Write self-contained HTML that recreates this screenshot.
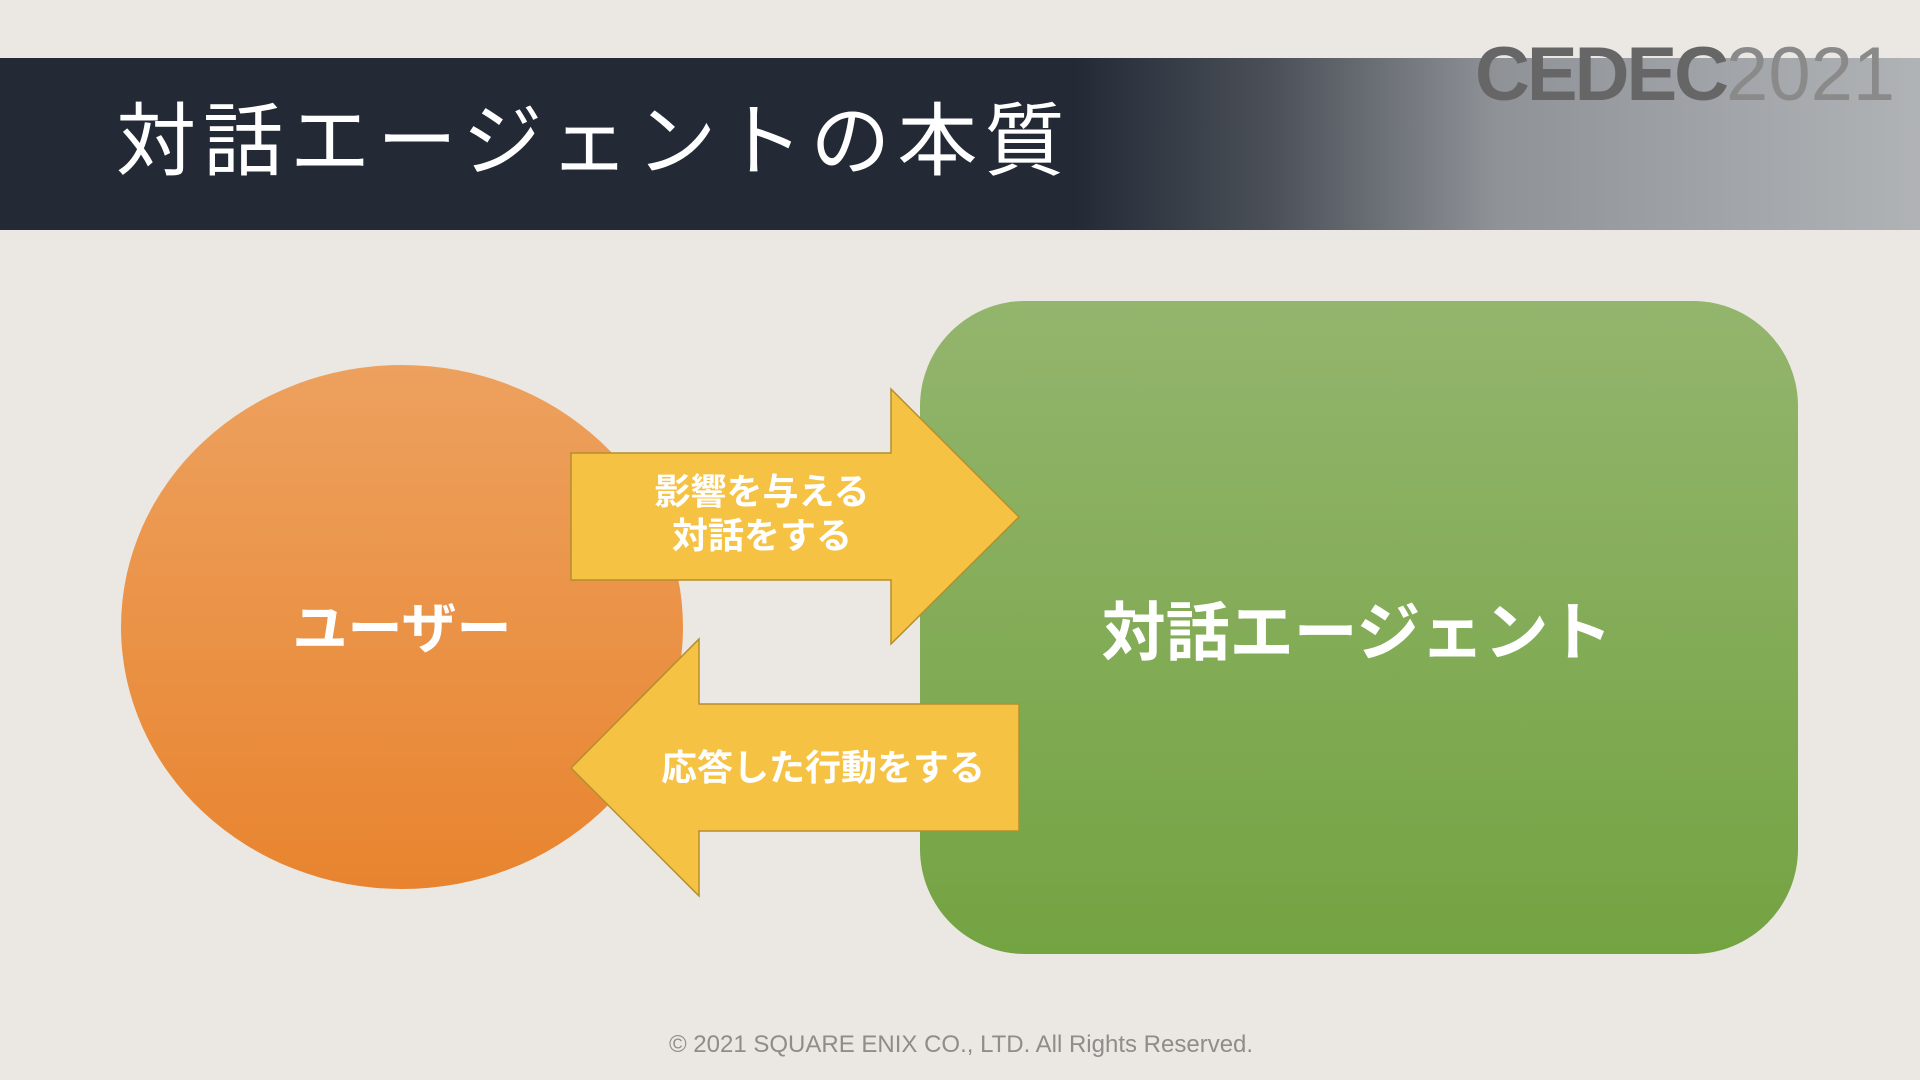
<!DOCTYPE html>
<html><head><meta charset="utf-8"><style>
html,body{margin:0;padding:0;}
body{width:1920px;height:1080px;background:#ebe8e3;position:relative;overflow:hidden;font-family:"Liberation Sans","Noto Sans CJK JP",sans-serif;}
.band{position:absolute;left:0;top:58px;width:1920px;height:172px;background:linear-gradient(90deg,#232a36 0%,#232a36 56%,#4a4f57 66%,#8f9398 78%,#b0b3b6 100%);}
.title{position:absolute;left:116px;top:92px;font-size:80px;color:#fff;letter-spacing:7px;white-space:nowrap;line-height:100px;}
.logo{position:absolute;left:1475px;top:30px;font-size:76px;color:#666;font-weight:bold;letter-spacing:-3px;line-height:90px;white-space:nowrap;}
.logo span{font-weight:normal;color:#8a8a8a;letter-spacing:0;}
.lbl{position:absolute;color:#fff;font-weight:bold;text-align:center;white-space:nowrap;transform:translate(-50%,-50%);}
.foot{position:absolute;left:961px;top:1045px;transform:translate(-50%,-50%);color:#8f8d8a;font-size:24px;white-space:nowrap;}
</style></head><body>
<div class="band"></div>
<div class="title">対話エージェントの本質</div>
<div class="logo">CEDEC<span>2021</span></div>
<svg width="1920" height="1080" style="position:absolute;left:0;top:0">
<defs>
<linearGradient id="og" x1="0" y1="0" x2="0" y2="1"><stop offset="0" stop-color="#eda15e"/><stop offset="1" stop-color="#e8842f"/></linearGradient>
<linearGradient id="gg" x1="0" y1="0" x2="0" y2="1"><stop offset="0" stop-color="#93b56d"/><stop offset="1" stop-color="#74a342"/></linearGradient>
</defs>
<ellipse cx="402" cy="627" rx="281" ry="262" fill="url(#og)"/>
<rect x="920" y="301" width="878" height="653" rx="105" ry="105" fill="url(#gg)"/>
<polygon points="571,453 891,453 891,389 1019,517 891,644 891,580 571,580" fill="#f5c243" stroke="#b58f2a" stroke-width="1.5"/>
<polygon points="571,768 699,639 699,704 1019,704 1019,831 699,831 699,896" fill="#f5c243" stroke="#b58f2a" stroke-width="1.5"/>
</svg>
<div class="lbl" style="left:402px;top:624px;font-size:55px;">ユーザー</div>
<div class="lbl" style="left:1357px;top:628px;font-size:64px;">対話エージェント</div>
<div class="lbl" style="left:762px;top:514px;font-size:36px;line-height:44px;">影響を与える<br>対話をする</div>
<div class="lbl" style="left:823px;top:765px;font-size:36px;">応答した行動をする</div>
<div class="foot">© 2021 SQUARE ENIX CO., LTD. All Rights Reserved.</div>
</body></html>
